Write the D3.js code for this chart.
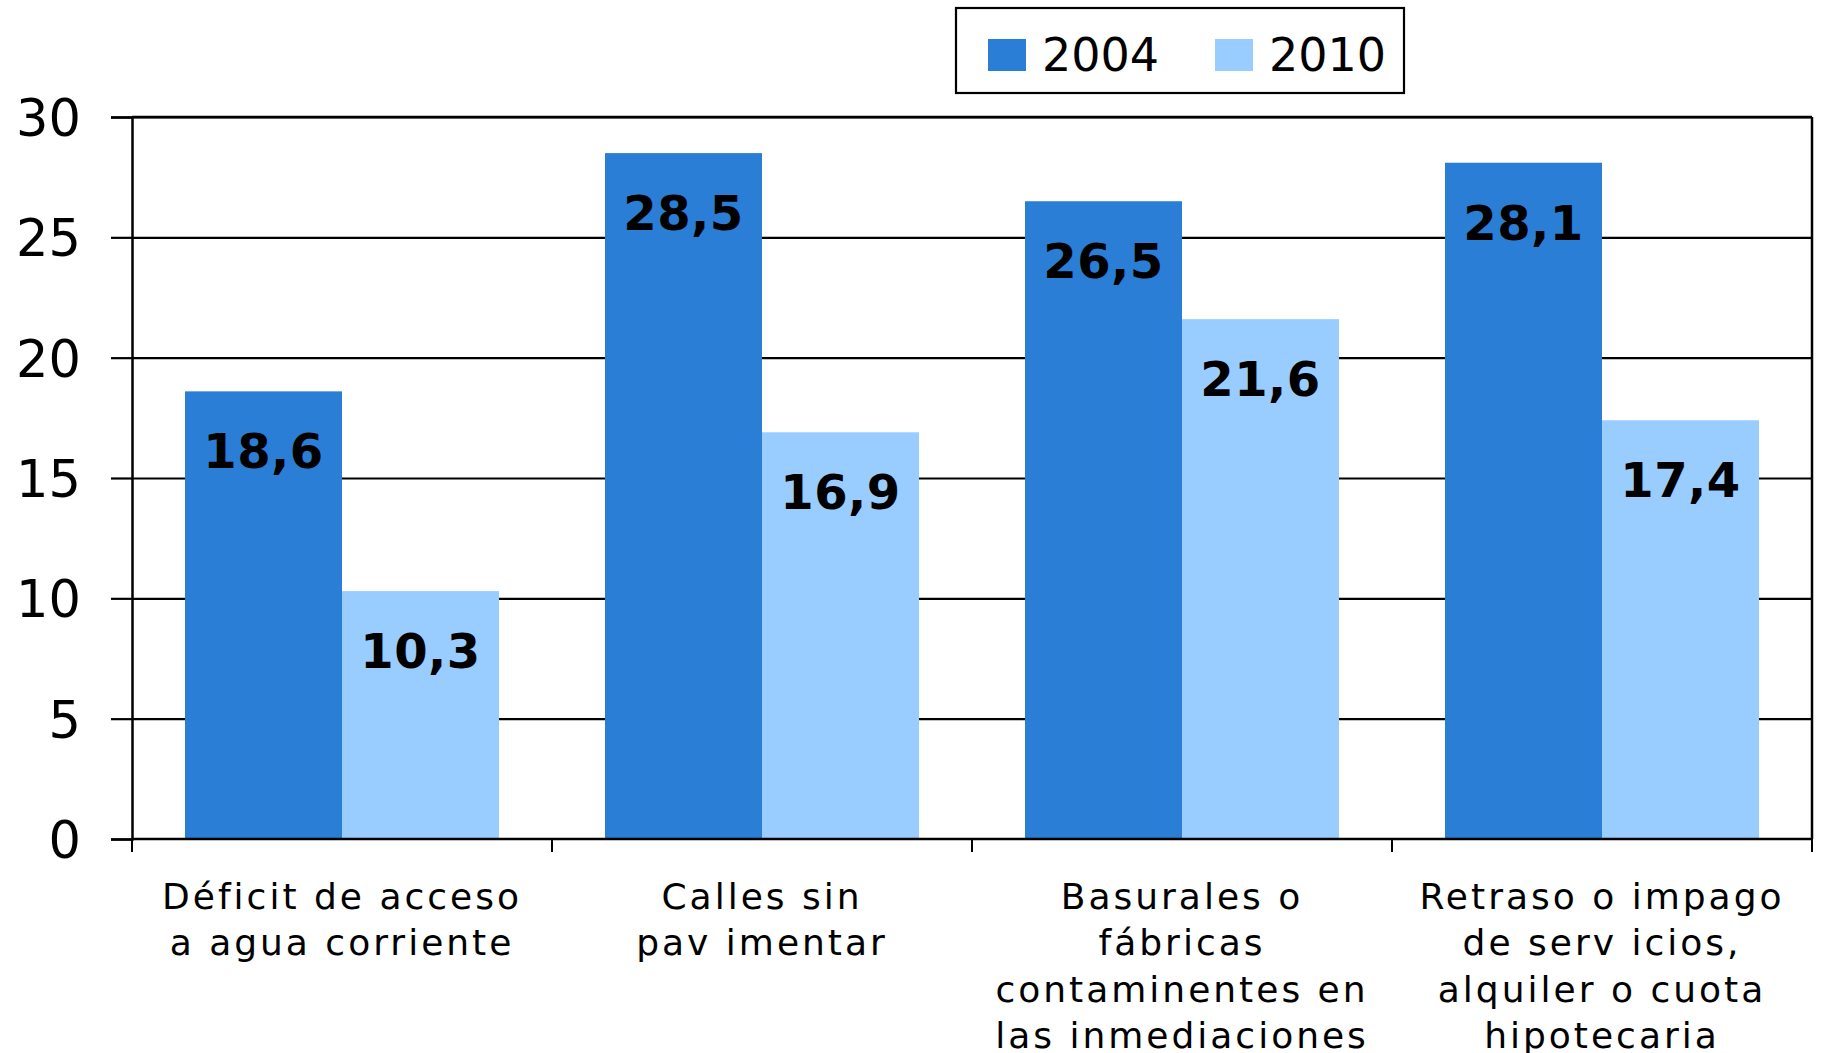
<!DOCTYPE html>
<html>
<head>
<meta charset="utf-8">
<script src="https://cdn.jsdelivr.net/npm/d3@7"></script>
<style>
  body { margin: 0; background: #fff; }
  svg { display: block; font-family: "Century Gothic", "DejaVu Sans", sans-serif; }
</style>
</head>
<body>
<div id="vis"></div>
<script>
const FRAME_WIDTH = 1821;
const FRAME_HEIGHT = 1053;
const MARGINS = {left: 132, right: 9, top: 117, bottom: 214};

// data
const categories = ["Déficit de acceso a agua corriente", "Calles sin pav imentar",
                    "Basurales o fábricas contaminentes en las inmediaciones",
                    "Retraso o impago de serv icios, alquiler o cuota hipotecaria"];
const labelLines = [["Déficit de acceso", "a agua corriente"],
                    ["Calles sin", "pav imentar"],
                    ["Basurales o", "fábricas", "contaminentes en", "las inmediaciones"],
                    ["Retraso o impago", "de serv icios,", "alquiler o cuota", "hipotecaria"]];
const seriesNames = ["2004", "2010"];
const values2004 = [18.6, 28.5, 26.5, 28.1];
const values2010 = [10.3, 16.9, 21.6, 17.4];
const yTicks = [0, 5, 10, 15, 20, 25, 30];
const colors = ["#2A7ED6", "#99CCFF"];

const VIS_WIDTH = FRAME_WIDTH - MARGINS.left - MARGINS.right;
const VIS_HEIGHT = FRAME_HEIGHT - MARGINS.top - MARGINS.bottom;

const rows = categories.map((c, i) => ({cat: c, vals: [values2004[i], values2010[i]]}));

const svg = d3.select("#vis").append("svg")
    .attr("width", FRAME_WIDTH)
    .attr("height", FRAME_HEIGHT);

const X_SCALE = d3.scaleBand().domain(categories).range([0, VIS_WIDTH]).padding(0);
const X_INNER = d3.scaleBand().domain(seriesNames)
    .range([53, X_SCALE.bandwidth() - 53]).padding(0);
const Y_SCALE = d3.scaleLinear().domain([0, 30]).range([VIS_HEIGHT, 0]);

const fmt = d3.formatLocale({decimal: ",", thousands: ".", grouping: [3], currency: ["", ""]}).format(".1f");

const g = svg.append("g").attr("transform", `translate(${MARGINS.left},${MARGINS.top})`);

// gridlines
g.append("g")
    .call(d3.axisLeft(Y_SCALE).tickValues(yTicks.slice(1)).tickSize(-VIS_WIDTH).tickFormat(""))
    .call(a => a.select(".domain").remove())
    .selectAll("line").attr("stroke", "#000").attr("stroke-width", 2.2);

// bars
const groups = g.selectAll(".grp").data(rows).enter().append("g")
    .attr("transform", d => `translate(${X_SCALE(d.cat)},0)`);

groups.selectAll("rect").data(d => d.vals.map((v, i) => ({s: seriesNames[i], v: v, i: i})))
  .enter().append("rect")
    .attr("x", d => X_INNER(d.s))
    .attr("y", d => Y_SCALE(d.v))
    .attr("width", X_INNER.bandwidth())
    .attr("height", d => VIS_HEIGHT - Y_SCALE(d.v))
    .attr("fill", d => colors[d.i]);

groups.selectAll(".val").data(d => d.vals.map((v, i) => ({s: seriesNames[i], v: v})))
  .enter().append("text")
    .attr("x", d => X_INNER(d.s) + X_INNER.bandwidth() / 2)
    .attr("y", d => Y_SCALE(d.v) + 77)
    .attr("text-anchor", "middle")
    .attr("font-weight", "bold")
    .attr("font-size", "48px")
    .attr("letter-spacing", "0.5px")
    .attr("fill", "#000")
    .text(d => fmt(d.v));

// y axis
g.append("g")
    .call(d3.axisLeft(Y_SCALE).tickValues(yTicks).tickSize(21).tickPadding(30))
    .call(a => a.select(".domain").attr("stroke-width", 2.5))
    .call(a => a.selectAll("line").attr("stroke-width", 2.2))
    .selectAll("text").attr("font-size", "51px").attr("fill", "#000")
    .attr("font-family", "DejaVu Sans").attr("dy", "0.36em");

// top & right border
g.append("line").attr("x1", 0).attr("x2", VIS_WIDTH).attr("y1", 0).attr("y2", 0)
    .attr("stroke", "#000").attr("stroke-width", 2.5);
g.append("line").attr("x1", VIS_WIDTH).attr("x2", VIS_WIDTH).attr("y1", 0).attr("y2", VIS_HEIGHT)
    .attr("stroke", "#000").attr("stroke-width", 2.5);

// x axis baseline and boundary ticks
g.append("line").attr("x1", 0).attr("x2", VIS_WIDTH).attr("y1", VIS_HEIGHT).attr("y2", VIS_HEIGHT)
    .attr("stroke", "#000").attr("stroke-width", 2.5);
const bounds = categories.map(c => X_SCALE(c)).concat([X_SCALE(categories[categories.length - 1]) + X_SCALE.bandwidth()]);
g.selectAll(".xt").data(bounds).enter().append("line")
    .attr("x1", d => d).attr("x2", d => d)
    .attr("y1", VIS_HEIGHT).attr("y2", VIS_HEIGHT + 13)
    .attr("stroke", "#000").attr("stroke-width", 2);

// x labels
const xl = g.selectAll(".xl").data(rows).enter().append("text")
    .attr("transform", (d, i) => `translate(${X_SCALE(d.cat) + X_SCALE.bandwidth() / 2},${VIS_HEIGHT + 70})`)
    .attr("text-anchor", "middle")
    .attr("font-size", "36px")
    .attr("letter-spacing", "3px")
    .attr("fill", "#000");
xl.selectAll("tspan").data((d, i) => labelLines[i]).enter().append("tspan")
    .attr("x", 0)
    .attr("dy", (d, i) => i === 0 ? 0 : 46.3)
    .text(d => d);

// legend
const legend = svg.append("g").attr("transform", "translate(956,8)");
legend.append("rect").attr("width", 448).attr("height", 85)
    .attr("fill", "#fff").attr("stroke", "#000").attr("stroke-width", 2.2);
const legX = [32, 259];
seriesNames.forEach((s, i) => {
  legend.append("rect").attr("x", legX[i]).attr("y", 31).attr("width", 38).attr("height", 32)
      .attr("fill", colors[i]);
  legend.append("text").attr("x", legX[i] + 54).attr("y", 63)
      .attr("font-size", "46px").attr("fill", "#000").text(s);
});
</script>
</body>
</html>
